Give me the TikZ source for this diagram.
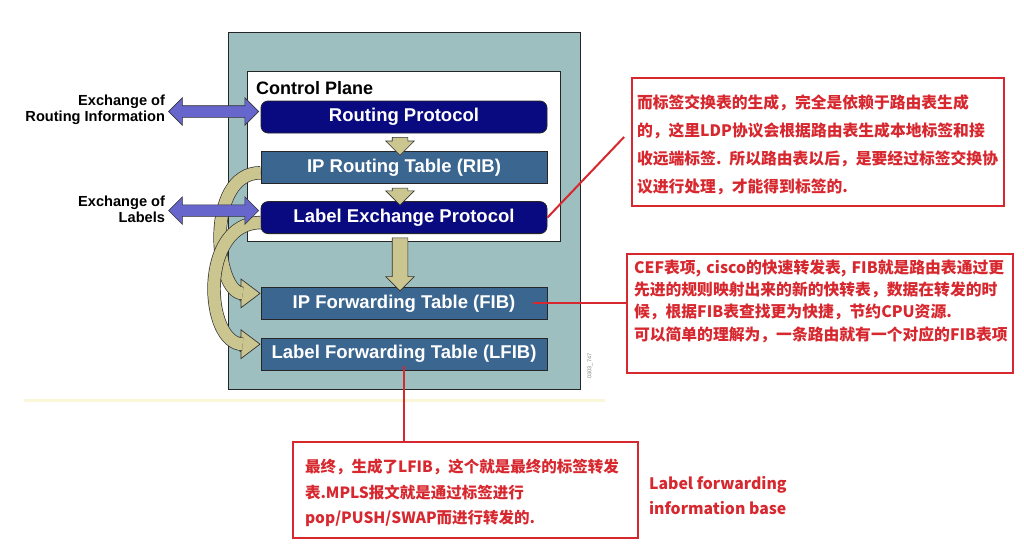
\documentclass[tikz,border=0pt]{standalone}
\usepackage{fontspec}
\setmainfont{Liberation Sans}
\newfontfamily\cjk{Noto Sans CJK SC}
\usetikzlibrary{positioning,calc,shapes.arrows}
\definecolor{tteal}{HTML}{9EBFBF}
\definecolor{tnavy}{HTML}{0A0A80}
\definecolor{tsteel}{HTML}{3A6690}
\definecolor{tkhaki}{HTML}{CBC690}
\definecolor{tviolet}{HTML}{6666CC}
\definecolor{tred}{HTML}{D7282F}
\definecolor{tcream}{HTML}{FAF6D8}

\begin{document}
\begin{tikzpicture}[x=1pt, y=-1pt, node distance=18pt,
  box/.style={minimum width=286pt, minimum height=32pt, inner sep=0pt, draw=black!85, line width=0.8pt, text=white, font=\fontsize{18.5}{20}\selectfont\bfseries},
  proto/.style={box, fill=tnavy, rounded corners=7pt},
  tbl/.style={box, fill=tsteel},
  fatdown/.style={single arrow, shape border rotate=270, draw=black!80, fill=tkhaki, line width=0.6pt, inner xsep=7.5pt, inner ysep=0pt, single arrow head extend=6.5pt},
  xarrow/.style={double arrow, draw=black!80, fill=tviolet, line width=0.6pt, minimum height=90pt, inner xsep=0pt, inner ysep=5.5pt, double arrow head extend=8pt},
  band/.style={draw=black!80, line width=0.7pt, double=tkhaki, double distance=12pt},
  tiphead/.style={single arrow, draw=black!80, fill=tkhaki, line width=0.7pt, minimum height=20pt, inner xsep=0pt, inner ysep=7pt, single arrow head extend=7pt, single arrow tip angle=74},
  xtext/.style={font=\fontsize{14.6}{16}\selectfont\bfseries, align=right, inner sep=0pt},
  note/.style={draw=tred, line width=1.8pt, text=tred, align=left, inner sep=0pt},
  link/.style={draw=tred, line width=2pt}]
\useasboundingbox (0,0) rectangle (1024,551);
\fill[white] (0,0) rectangle (1024,551);
\draw[tcream, line width=3pt] (24,400) -- (605,400);
% router frame
\node[draw=black!85, line width=1pt, fill=tteal, minimum width=352pt, minimum height=356pt] (plate) at (404,211) {};
\node[draw=black!85, line width=1pt, fill=white, minimum width=313pt, minimum height=170pt] (cplane) at (403.5,156) {};
\node[anchor=base west, inner sep=0pt, font=\fontsize{18}{20}\selectfont\bfseries] (cptitle) at (256,94) {Control Plane};
\node[rotate=90, inner sep=0pt, text=black!50, font=\fontsize{5.5}{6}\selectfont] (code) at (590,366) {0303\_747};
\node[proto] (rp) at (404,117) {Routing Protocol};
\node[tbl, below=18pt of rp] (rib) {IP Routing Table (RIB)};
\node[proto, below=17pt of rib] (lep) {Label Exchange Protocol};
\node[tbl, below=53pt of lep] (fib) {IP Forwarding Table (FIB)};
\node[tbl, below=18pt of fib] (lfib) {Label Forwarding Table (LFIB)};
\node[fatdown, minimum height=18pt] (a1) at ($(rp.south)!.5!(rib.north)+(-4,0)$) {};
\node[fatdown, minimum height=17pt] (a2) at ($(rib.south)!.5!(lep.north)+(-4,0)$) {};
\node[fatdown, minimum height=53pt] (a3) at ($(lep.south)!.5!(fib.north)+(-4,0)$) {};
% tables fed into the forwarding plane
\node[tiphead, anchor=tip] (fibtip) at ([yshift=10pt]fib.west) {};
\node[tiphead, anchor=tip] (lfibtip) at ([yshift=10pt]lfib.west) {};
\draw[band] ([yshift=-5pt]rib.west) .. controls +(-56,0) and +(-28,0) .. ([xshift=3pt]fibtip.tail);
\draw[band] ([yshift=-5pt]lep.west) .. controls +(-62,0) and +(-38,0) .. ([xshift=3pt]lfibtip.tail);
\node[xarrow] (xroute) at ($(rp.west)+(-47,-5.5)$) {};
\node[xarrow] (xlab) at ($(lep.west)+(-47,-7)$) {};
\node[xtext, left=3pt of xroute, yshift=1.5pt] (troute) {Exchange of\\Routing Information};
\node[xtext, left=3pt of xlab, yshift=1.5pt] (tlab) {Exchange of\\Labels};
% red notes
\node[note, minimum width=372pt, minimum height=128pt, text width=362pt, font=\cjk\bfseries\fontsize{15.8}{28}\selectfont] (note1) at (818,142)
  {\rule{0pt}{19pt}而标签交换表的生成，完全是依赖于路由表生成\\的，这里LDP协议会根据路由表生成本地标签和接\\收远端标签. 所以路由表以后，是要经过标签交换协\\议进行处理，才能得到标签的.};
\node[note, minimum width=386pt, minimum height=119pt, text width=372pt, font=\cjk\bfseries\fontsize{15.8}{22.3}\selectfont] (note2) at (820,313.5)
  {CEF表项, cisco的快速转发表, FIB就是路由表通过更\\先进的规则映射出来的新的快转表，数据在转发的时\\候，根据FIB表查找更为快捷，节约CPU资源.\\可以简单的理解为，一条路由就有一个对应的FIB表项\rule[-27pt]{0pt}{0pt}};
\node[note, minimum width=345pt, minimum height=96pt, text width=321pt, font=\cjk\bfseries\fontsize{15.5}{25.5}\selectfont] (note3) at (465.5,490)
  {\rule{0pt}{19.5pt}最终，生成了LFIB，这个就是最终的标签转发\\表.MPLS报文就是通过标签进行\\pop/PUSH/SWAP而进行转发的.};
\node[right=10pt of note3, yshift=-5.5pt, inner sep=0pt, align=left, text=tred, font=\cjk\bfseries\fontsize{15.8}{25}\selectfont] (lfibname) {Label forwarding\\information base};
\draw[link] (lep.east) -- ($(note1.west)+(-7,-5)$);
\draw[link] ([xshift=-14pt]fib.east) -- (fib.east -| note2.west);
\draw[link] ([yshift=5pt]lfib.south) -- (lfib.south |- note3.north);
\end{tikzpicture}
\end{document}
